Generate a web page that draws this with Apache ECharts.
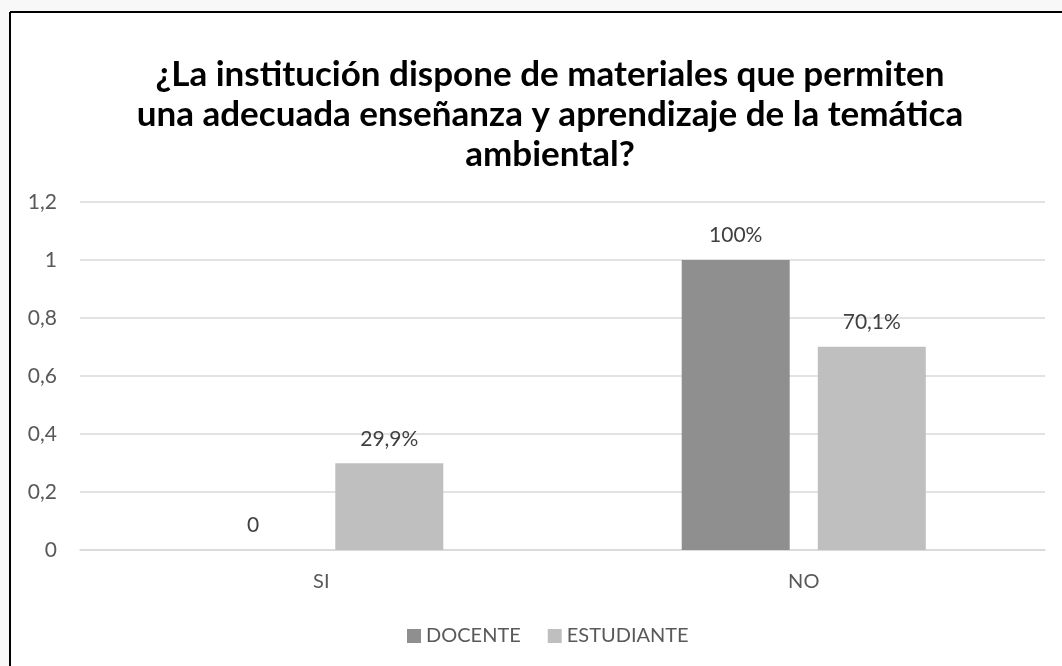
<!DOCTYPE html>
<html>
<head>
<meta charset="utf-8">
<script src="https://cdn.jsdelivr.net/npm/echarts@6/dist/echarts.min.js"></script>
<style>
html,body{margin:0;padding:0;background:#fff;}
#chart{width:1062px;height:666px;}
</style>
</head>
<body>
<div id="chart"></div>
<script>
const titleText = '¿La institución dispone de materiales que permiten\nuna adecuada enseñanza y aprendizaje de la temática\nambiental?';
const categories = ['SI', 'NO'];
const seriesNames = ['DOCENTE', 'ESTUDIANTE'];
const docente = [0, 1];
const estudiante = [0.299, 0.701];
const yMin = 0, yMax = 1.2, yStep = 0.2;

function pctLabel(v) {
  if (v === 0) return '0';
  const p = Math.round(v * 1000) / 10;
  return String(p).replace('.', ',') + '%';
}
function tickLabel(v) {
  return String(Math.round(v * 10) / 10).replace('.', ',');
}

const font = 'Lato, "Open Sans", sans-serif';
const chart = echarts.init(document.getElementById('chart'), null, {renderer: 'canvas'});
const labelCfg = {
  show: true, position: 'top', distance: 14,
  color: '#404040', fontSize: 21, fontFamily: font,
  formatter: p => pctLabel(p.value)
};
chart.setOption({
  backgroundColor: '#ffffff',
  animation: false,
  title: {
    text: titleText, left: 545, textAlign: 'center', top: 50,
    textStyle: {fontFamily: font, fontWeight: 'bold', fontSize: 35, color: '#000', lineHeight: 40}
  },
  legend: {
    data: seriesNames, top: 621, left: 402,
    itemWidth: 14, itemHeight: 14, itemGap: 27, icon: 'rect',
    textStyle: {fontFamily: font, fontSize: 20, color: '#595959'}
  },
  grid: {left: 80, right: 17, top: 202, bottom: 116, containLabel: false},
  xAxis: {
    type: 'category', data: categories,
    axisLine: {lineStyle: {color: '#d9d9d9', width: 1.5}},
    axisTick: {show: false},
    axisLabel: {fontFamily: font, fontSize: 20, color: '#595959', margin: 22}
  },
  yAxis: {
    type: 'value', min: yMin, max: yMax, interval: yStep,
    axisLine: {show: false}, axisTick: {show: false},
    splitLine: {lineStyle: {color: '#d9d9d9', width: 1.5}},
    axisLabel: {fontFamily: font, fontSize: 21, color: '#595959', margin: 23, formatter: tickLabel}
  },
  series: [
    {name: seriesNames[0], type: 'bar', data: docente, barWidth: 108, barGap: '26%',
     itemStyle: {color: '#8f8f8f'}, label: labelCfg},
    {name: seriesNames[1], type: 'bar', data: estudiante, barWidth: 108, barGap: '26%',
     itemStyle: {color: '#bfbfbf'}, label: labelCfg}
  ],
  graphic: [
    {type: 'rect', left: 0, top: 0, z: -10, shape: {width: 1062, height: 12}, style: {fill: '#f8f8f8'}},
    {type: 'rect', left: 0, top: 0, z: -10, shape: {width: 10, height: 666}, style: {fill: '#f8f8f8'}},
    {type: 'line', shape: {x1: 10, y1: 12, x2: 1062, y2: 12}, style: {stroke: '#000', lineWidth: 2}},
    {type: 'line', shape: {x1: 10, y1: 12, x2: 10, y2: 666}, style: {stroke: '#000', lineWidth: 2}}
  ]
});
</script>
</body>
</html>
